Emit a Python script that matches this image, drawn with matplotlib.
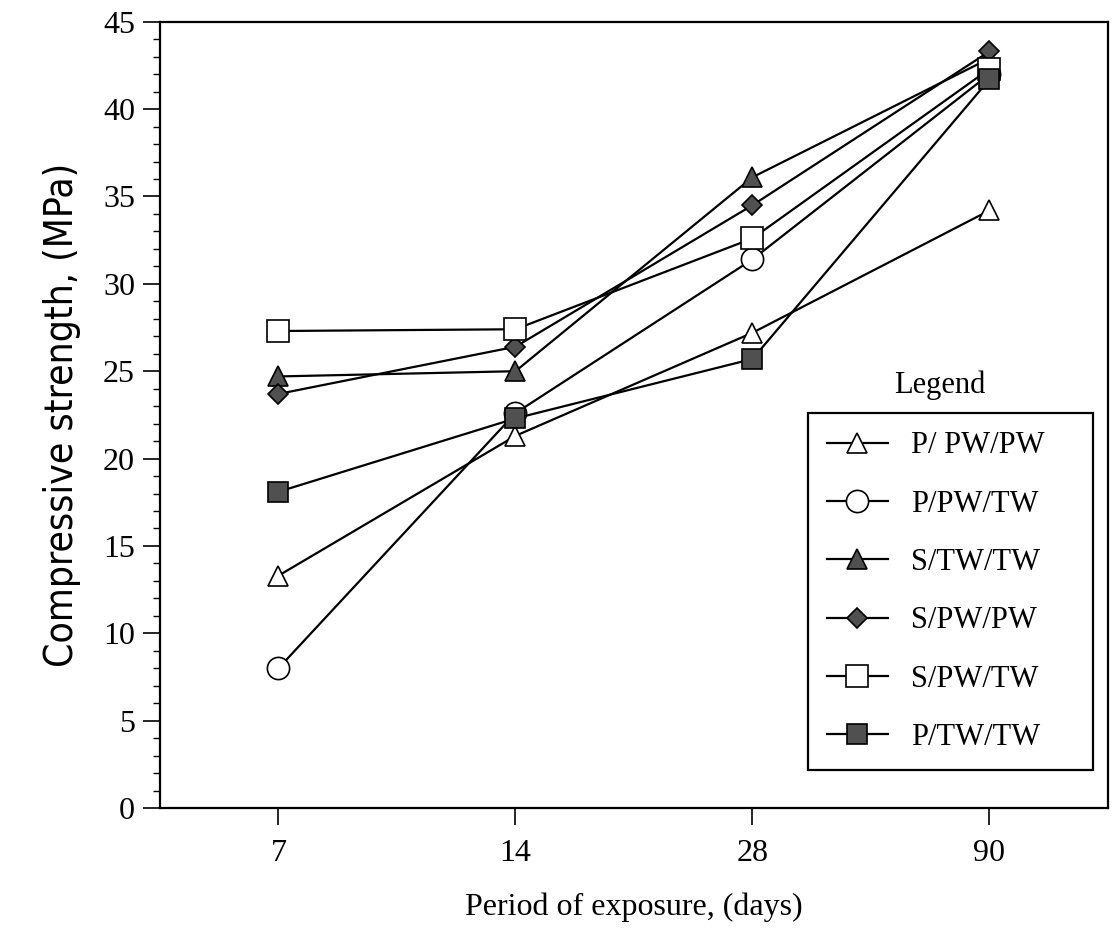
import matplotlib
matplotlib.use("Agg")
import matplotlib.pyplot as plt
from matplotlib.ticker import MultipleLocator

plt.rcParams["font.family"] = ["Liberation Serif", "DejaVu Serif"]

# data
periods = ["7", "14", "28", "90"]
labels = ["P/ PW/PW", "P/PW/TW", "S/TW/TW", "S/PW/PW", "S/PW/TW", "P/TW/TW"]
p_pw_pw = [13.3, 21.3, 27.2, 34.2]
p_pw_tw = [8.0, 22.6, 31.4, 42.0]
s_tw_tw = [24.7, 25.0, 36.1, 42.9]
s_pw_pw = [23.7, 26.4, 34.5, 43.3]
s_pw_tw = [27.3, 27.4, 32.6, 42.3]
p_tw_tw = [18.1, 22.3, 25.7, 41.7]

series = [p_pw_pw, p_pw_tw, s_tw_tw, s_pw_pw, s_pw_tw, p_tw_tw]
styles = [
    dict(marker="^", mfc="white", ms=15),
    dict(marker="o", mfc="white", ms=16),
    dict(marker="^", mfc="#505050", ms=14),
    dict(marker="D", mfc="#505050", ms=10),
    dict(marker="s", mfc="white", ms=16),
    dict(marker="s", mfc="#505050", ms=15),
]

fig = plt.figure(figsize=(11.14, 9.44), dpi=100)
ax = fig.add_axes([0.1436, 0.144, 0.851, 0.833])

x = list(range(1, len(periods) + 1))
for vals, lab, st in zip(series, labels, styles):
    ax.plot(x, vals, color="black", lw=1.6, mec="black", mew=1.2, label=lab, **st)

ax.set_xlim(0.5, 4.5)
ax.set_ylim(0, 45)
ax.set_xticks(x)
ax.set_xticklabels(periods)
ax.yaxis.set_major_locator(MultipleLocator(5))
ax.yaxis.set_minor_locator(MultipleLocator(1))
ax.tick_params(axis="both", which="major", labelsize=23, direction="out", length=12, width=1.2)
ax.tick_params(axis="y", which="minor", direction="out", length=5, width=1)
ax.tick_params(axis="x", pad=10)
ax.tick_params(axis="y", pad=6)
for sp in ax.spines.values():
    sp.set_linewidth(1.6)

ax.set_xlabel("Period of exposure, (days)", fontsize=23, labelpad=18)
ax.set_ylabel("Compressive strength, (MPa)", fontsize=28, labelpad=16,
              family="DejaVu Sans", fontstretch="condensed")

leg = ax.legend(loc="upper left", bbox_to_anchor=(0.684, 0.5025, 0.3006, 0.0),
                mode="expand", fontsize=22, labelspacing=0.96, handlelength=2.0,
                handletextpad=0.75, borderpad=0.6, borderaxespad=0.0, fancybox=False,
                framealpha=1, edgecolor="black")
leg.get_frame().set_linewidth(1.6)
ax.text(0.823, 0.538, "Legend", transform=ax.transAxes, ha="center", va="center", fontsize=22)

fig.savefig("out.png", dpi=100)
